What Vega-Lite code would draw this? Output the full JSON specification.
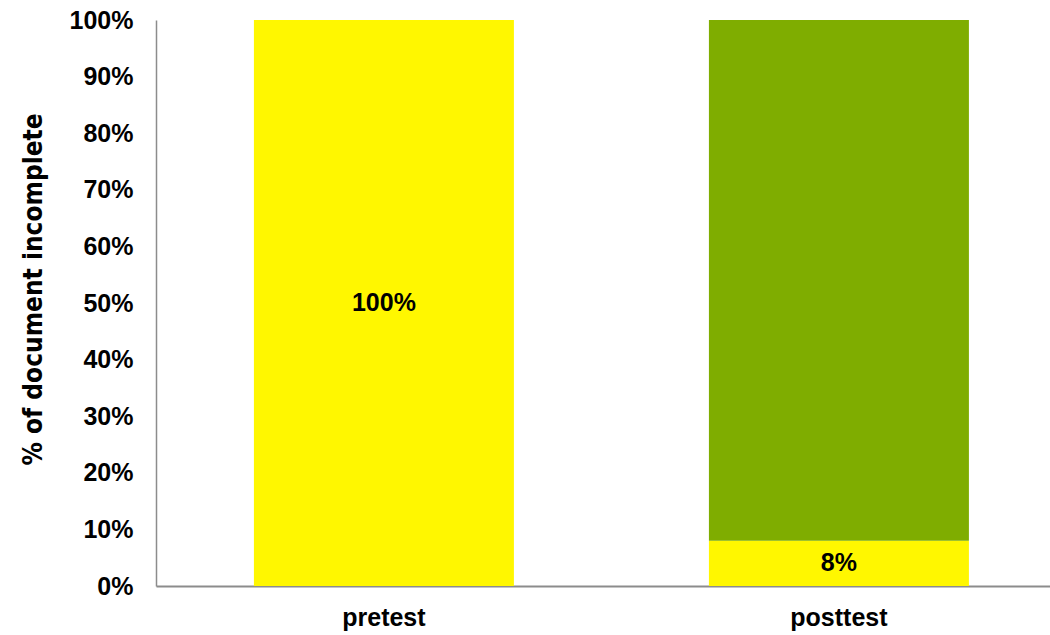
{
  "$schema": "https://vega.github.io/schema/vega-lite/v6.json",
  "autosize": "none",
  "padding": {"left": 156, "top": 20, "right": 0, "bottom": 49},
  "width": 894,
  "height": 566,
  "background": "white",
  "config": {"view": {"stroke": null}},
  "data": {"values": [
    {"test": "pretest", "status": "incomplete", "share": 1.0},
    {"test": "posttest", "status": "incomplete", "share": 0.08},
    {"test": "posttest", "status": "complete", "share": 0.92}
  ]},
  "encoding": {
    "x": {
      "field": "test", "type": "nominal", "sort": ["pretest", "posttest"],
      "scale": {"paddingInner": 0.4286, "paddingOuter": 0.1967, "align": 0.547},
      "axis": {"title": null, "labelAngle": 0, "ticks": false, "domainColor": "#8c8c8c", "domainWidth": 2,
        "labelFont": "Liberation Sans", "labelFontWeight": "bold", "labelFontSize": 25, "labelColor": "#000", "labelPadding": 19}
    }
  },
  "layer": [
    {
      "mark": {"type": "bar"},
      "encoding": {
        "y": {
          "field": "share", "type": "quantitative", "stack": "zero",
          "scale": {"domain": [0, 1], "nice": false},
          "axis": {
            "title": "% of document incomplete", "values": [0,0.1,0.2,0.3,0.4,0.5,0.6,0.7,0.8,0.9,1.0], "format": ".0%",
            "grid": false, "ticks": false, "domainColor": "#8c8c8c", "domainWidth": 1.5,
            "labelFont": "Liberation Sans", "labelFontWeight": "bold", "labelFontSize": 25, "labelColor": "#000", "labelPadding": 23,
            "titleFont": "DejaVu Sans Condensed", "titleFontWeight": "bold", "titleFontSize": 26, "titleColor": "#000",
            "titleAngle": -90, "titleX": -123, "titleY": 269, "titleAlign": "center", "titleBaseline": "middle"
          }
        },
        "color": {"field": "status", "type": "nominal", "scale": {"domain": ["incomplete", "complete"], "range": ["#FFF700", "#7FAD00"]}, "legend": null},
        "order": {"field": "status", "sort": "descending"}
      }
    },
    {
      "transform": [{"filter": "datum.status === 'incomplete'"}, {"calculate": "datum.share / 2", "as": "mid"}],
      "mark": {"type": "text", "font": "Liberation Sans", "fontWeight": "bold", "fontSize": 25, "color": "#000", "baseline": "middle"},
      "encoding": {
        "y": {"field": "mid", "type": "quantitative"},
        "text": {"field": "share", "type": "quantitative", "format": ".0%"}
      }
    }
  ]
}
